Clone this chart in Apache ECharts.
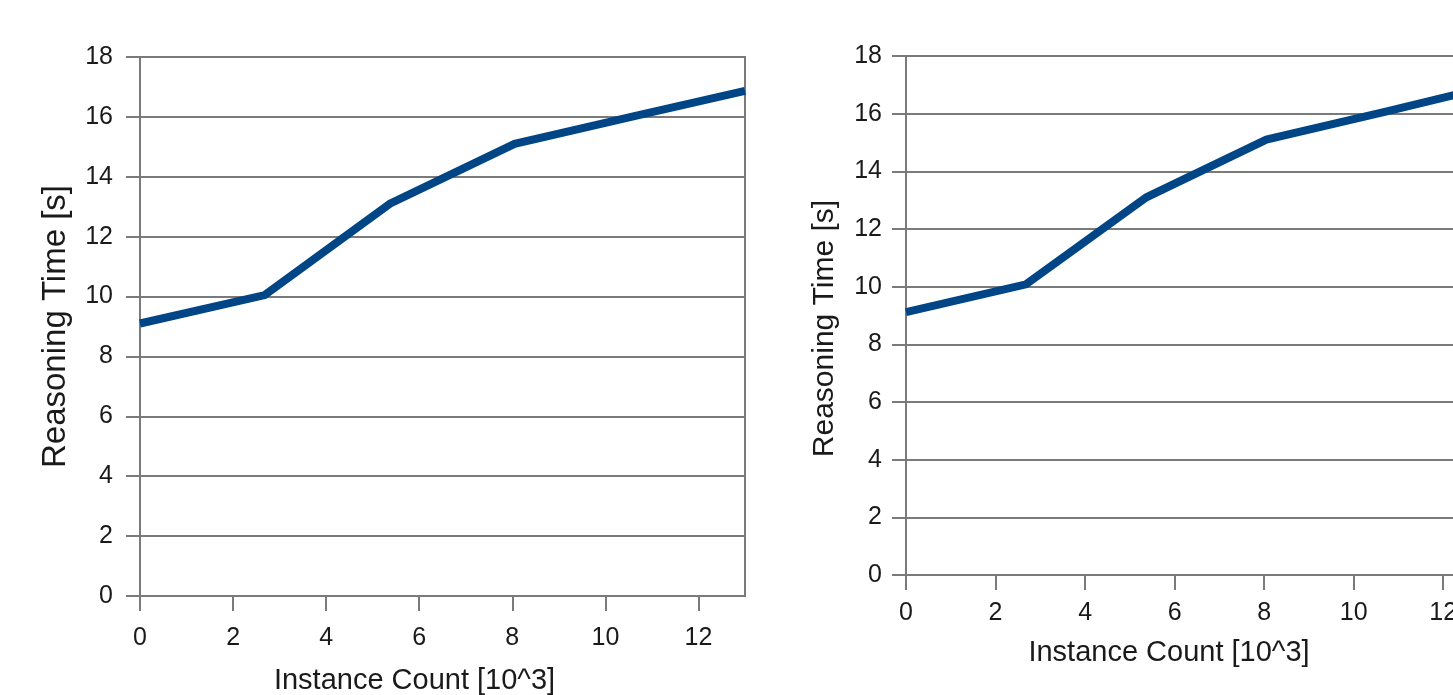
<!DOCTYPE html>
<html>
<head>
<meta charset="utf-8">
<style>
  html, body { margin: 0; padding: 0; background: #fff; overflow: hidden; }
  /* wider than the window: the right panel runs past the edge in the original */
  #chart { width: 1520px; height: 695px; }
</style>
<script src="https://cdn.jsdelivr.net/npm/echarts@6/dist/echarts.min.js"></script>
</head>
<body>
<div id="chart"></div>
<script>
// instance count in thousands, x positions of the measured points
const instanceCount = [0, 2.68, 5.37, 8.05, 10.74, 13];
// reasoning time [s]
const timeLeft = [9.1, 10.05, 13.1, 15.1, 16.07, 16.87];
const timeRight = [9.12, 10.08, 13.1, 15.1, 16.08, 16.93];

const FONT = "'Liberation Sans', Arial, sans-serif";
const GRID_COLOR = '#7a7a7a';
const LINE_COLOR = '#004586';

function pairs(xs, ys) {
  return xs.map((x, i) => [x, ys[i]]);
}

function xAxisCfg(gridIndex, nameGap, labelMargin) {
  return {
    type: 'value',
    gridIndex: gridIndex,
    min: 0,
    max: 13,
    interval: 2,
    name: 'Instance Count [10^3]',
    nameLocation: 'middle',
    nameGap: nameGap,
    nameTextStyle: { fontFamily: FONT, fontSize: 29, color: '#1a1a1a', padding: [0, 56, 0, 0] },
    axisLine: { show: true, onZero: false, lineStyle: { color: GRID_COLOR, width: 2 } },
    axisTick: { show: true, length: 15, lineStyle: { color: GRID_COLOR, width: 2 } },
    axisLabel: { fontFamily: FONT, fontSize: 25, color: '#1a1a1a', margin: labelMargin, showMaxLabel: false },
    splitLine: { show: false }
  };
}

function yAxisCfg(gridIndex, nameGap, nameSize, namePad, labelMargin) {
  return {
    type: 'value',
    gridIndex: gridIndex,
    min: 0,
    max: 18,
    interval: 2,
    name: 'Reasoning Time [s]',
    nameLocation: 'middle',
    nameGap: nameGap,
    nameTextStyle: { fontFamily: FONT, fontSize: nameSize, color: '#1a1a1a', padding: namePad },
    axisLine: { show: true, lineStyle: { color: GRID_COLOR, width: 2 } },
    axisTick: { show: true, length: 14, lineStyle: { color: GRID_COLOR, width: 2 } },
    axisLabel: { fontFamily: FONT, fontSize: 25, color: '#1a1a1a', margin: labelMargin },
    splitLine: { show: true, lineStyle: { color: GRID_COLOR, width: 2 } }
  };
}

const myChart = echarts.init(document.getElementById('chart'), null, { renderer: 'canvas' });
myChart.setOption({
  animation: false,
  backgroundColor: '#fff',
  grid: [
    { left: 140, top: 57, width: 605, height: 539, outerBoundsMode: 'none', containLabel: false, show: true, borderColor: GRID_COLOR, borderWidth: 2, backgroundColor: 'transparent' },
    { left: 906, top: 56, width: 582, height: 519, outerBoundsMode: 'none', containLabel: false, show: false }
  ],
  xAxis: [xAxisCfg(0, 70, 30), xAxisCfg(1, 63, 26)],
  yAxis: [yAxisCfg(0, 68, 33, 0, 27), yAxisCfg(1, 66, 30, [0, 26, 0, 0], 24)],
  series: [
    {
      type: 'line',
      xAxisIndex: 0,
      yAxisIndex: 0,
      data: pairs(instanceCount, timeLeft),
      showSymbol: false,
      lineStyle: { color: LINE_COLOR, width: 8, join: 'miter' }
    },
    {
      type: 'line',
      xAxisIndex: 1,
      yAxisIndex: 1,
      data: pairs(instanceCount, timeRight),
      showSymbol: false,
      lineStyle: { color: LINE_COLOR, width: 8, join: 'miter' }
    }
  ]
});
</script>
</body>
</html>
